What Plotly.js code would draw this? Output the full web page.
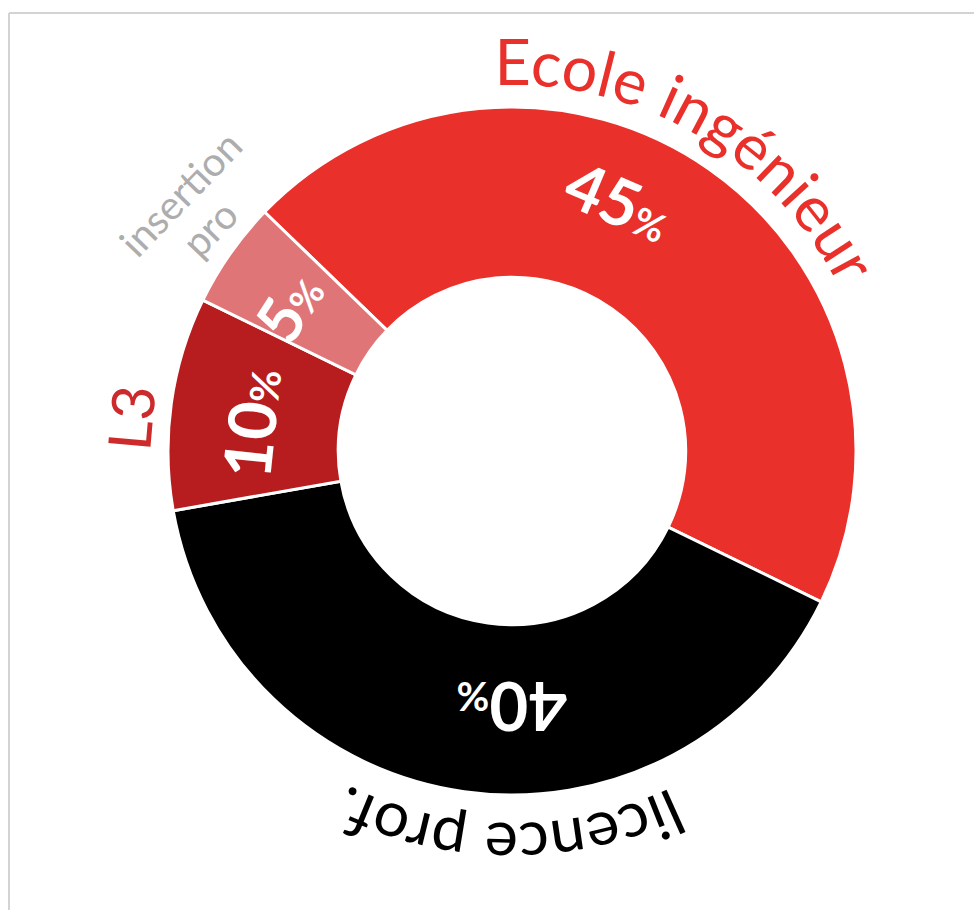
<!DOCTYPE html>
<html>
<head>
<meta charset="utf-8">
<script src="https://cdn.plot.ly/plotly-3.0.1.min.js"></script>
<style>
  html, body { margin: 0; padding: 0; background: #ffffff; }
  #chart { width: 974px; height: 910px; }
</style>
</head>
<body>
<div id="chart"></div>
<script>
// ---- data ----
const categories = ['Ecole ingénieur', 'licence prof.', 'L3', 'insertion pro'];
const shares = [45, 40, 10, 5];
const valueLabels = ['45', '40', '10', '5'];
const outerLabels = ['Ecole ingénieur', 'licence prof.', 'L3', 'insertion pro'];

// ---- styles / geometry ----
const sliceColors = ['#E9302A', '#000000', '#B71D1F', '#E07577'];
const outerColors = ['#E9302A', '#000000', '#CC2A2B', '#ADADAD'];
const W = 974, H = 910;
const CX = 512, CY = 451, R = 344;
const HOLE = 0.505;
const ROTATION = -46;
// label placement (angle clockwise from 12 o'clock, radius as fraction of R)
const pctPlace = [
  {ang: 23,  rf: 0.792, size: 65},
  {ang: 180, rf: 0.745, size: 67},
  {ang: -84, rf: 0.765, size: 66},
  {ang: -57, rf: 0.775, size: 63}
];
const outerPlace = [
  {ang: 30.3, rf: 1.064, size: 63, curved: true},
  {ang: 180.5, rf: 1.082, size: 63, curved: true},
  {ang: -85, rf: 1.113, size: 59, curved: false},
  {ang: -52.5, rf: 1.16, size: 40, curved: false}
];
// two-line label pieces: [text, angle, radius fraction]
const splitLines = {3: [['insertion', -52.1, 1.220], ['pro', -53.6, 1.092]]};
const splitAngle = -46;

function toPaper(ang, rad) {
  const a = ang * Math.PI / 180;
  return {x: (CX + rad * Math.sin(a)) / W, y: 1 - (CY - rad * Math.cos(a)) / H};
}

const annotations = [];
valueLabels.forEach(function (v, i) {
  const p = pctPlace[i];
  const pos = toPaper(p.ang, p.rf * R);
  annotations.push({
    xref: 'paper', yref: 'paper', x: pos.x, y: pos.y,
    xanchor: 'center', yanchor: 'middle', showarrow: false,
    textangle: p.ang > 180 ? p.ang - 360 : p.ang,
    text: '<b>' + v + '<span style="font-size:' + Math.round(p.size * 0.6) + 'px">%</span></b>',
    font: {family: 'Lato, sans-serif', size: p.size, color: '#ffffff'}
  });
});
outerLabels.forEach(function (t, i) {
  const p = outerPlace[i];
  if (p.curved) return;
  const font = {family: 'Lato, sans-serif', size: p.size, color: outerColors[i]};
  if (splitLines[i]) {
    splitLines[i].forEach(function (ln) {
      const pos = toPaper(ln[1], ln[2] * R);
      annotations.push({
        xref: 'paper', yref: 'paper', x: pos.x, y: pos.y,
        xanchor: 'center', yanchor: 'middle', showarrow: false,
        textangle: splitAngle, text: ln[0], font: font
      });
    });
    return;
  }
  const pos = toPaper(p.ang, p.rf * R);
  annotations.push({
    xref: 'paper', yref: 'paper', x: pos.x, y: pos.y,
    xanchor: 'center', yanchor: 'middle', showarrow: false,
    textangle: p.ang, text: t, font: font
  });
});

const data = [{
  type: 'pie',
  labels: categories,
  values: shares,
  sort: false,
  direction: 'clockwise',
  rotation: ROTATION,
  hole: HOLE,
  textinfo: 'none',
  hoverinfo: 'none',
  marker: {colors: sliceColors, line: {color: '#ffffff', width: 3}},
  domain: {x: [(CX - R) / W, (CX + R) / W], y: [1 - (CY + R) / H, 1 - (CY - R) / H]},
  showlegend: false
}];

const layout = {
  width: W, height: H,
  margin: {l: 0, r: 0, t: 0, b: 0},
  paper_bgcolor: '#ffffff',
  showlegend: false,
  annotations: annotations,
  shapes: [
    {type: 'line', xref: 'paper', yref: 'paper', x0: 9 / W, x1: 1, y0: 1 - 13 / H, y1: 1 - 13 / H,
     line: {color: '#D3D3D3', width: 2}},
    {type: 'line', xref: 'paper', yref: 'paper', x0: 9 / W, x1: 9 / W, y0: 0, y1: 1 - 13 / H,
     line: {color: '#D3D3D3', width: 2}}
  ]
};

const gd = document.getElementById('chart');
Plotly.newPlot(gd, data, layout, {displayModeBar: false, staticPlot: true}).then(function () {
  const NS = 'http://www.w3.org/2000/svg';
  // pie geometry as computed by Plotly
  const cd0 = (gd.calcdata && gd.calcdata[0] && gd.calcdata[0][0]) || {};
  const cx = cd0.cx != null ? cd0.cx : CX;
  const cy = cd0.cy != null ? cd0.cy : CY;
  const r = cd0.r != null ? cd0.r : R;
  const svg = gd.querySelector('svg.main-svg');
  const defs = document.createElementNS(NS, 'defs');
  svg.appendChild(defs);
  const g = document.createElementNS(NS, 'g');
  g.setAttribute('class', 'curved-labels');
  svg.appendChild(g);
  outerLabels.forEach(function (t, i) {
    const p = outerPlace[i];
    if (!p.curved) return;
    const rad = p.rf * r;
    const a0 = (p.ang - 170) * Math.PI / 180, a1 = (p.ang + 170) * Math.PI / 180;
    const x0 = cx + rad * Math.sin(a0), y0 = cy - rad * Math.cos(a0);
    const x1 = cx + rad * Math.sin(a1), y1 = cy - rad * Math.cos(a1);
    const id = 'arc' + i;
    const path = document.createElementNS(NS, 'path');
    path.setAttribute('id', id);
    path.setAttribute('d', 'M' + x0 + ',' + y0 + ' A' + rad + ',' + rad + ' 0 1 1 ' + x1 + ',' + y1);
    path.setAttribute('fill', 'none');
    defs.appendChild(path);
    const txt = document.createElementNS(NS, 'text');
    txt.setAttribute('font-family', 'Lato, sans-serif');
    txt.setAttribute('font-size', p.size);
    txt.setAttribute('fill', outerColors[i]);
    txt.setAttribute('text-anchor', 'middle');
    const tp = document.createElementNS(NS, 'textPath');
    tp.setAttribute('href', '#' + id);
    tp.setAttributeNS('http://www.w3.org/1999/xlink', 'xlink:href', '#' + id);
    tp.setAttribute('startOffset', '50%');
    tp.setAttribute('text-anchor', 'middle');
    tp.textContent = t;
    txt.appendChild(tp);
    g.appendChild(txt);
  });
});
</script>
</body>
</html>
